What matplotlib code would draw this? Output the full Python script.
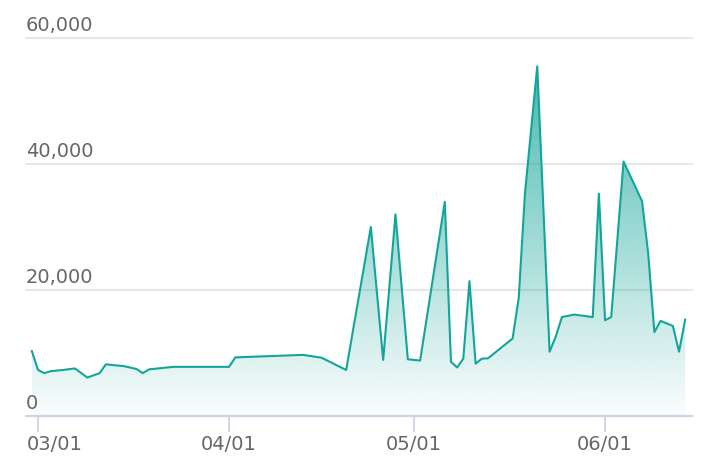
import numpy as np
import pandas as pd
import matplotlib
matplotlib.use('Agg')
import matplotlib.pyplot as plt
import matplotlib.dates as mdates
from matplotlib.colors import to_rgb
from matplotlib.transforms import ScaledTranslation, blended_transform_factory

# datos
dates = ['2024-02-29', '2024-03-01', '2024-03-02', '2024-03-03', '2024-03-05',
         '2024-03-07', '2024-03-09', '2024-03-11', '2024-03-12', '2024-03-15',
         '2024-03-17', '2024-03-18', '2024-03-19', '2024-03-23', '2024-04-01',
         '2024-04-02', '2024-04-13', '2024-04-16', '2024-04-20', '2024-04-24',
         '2024-04-26', '2024-04-28', '2024-04-30', '2024-05-02', '2024-05-06',
         '2024-05-07', '2024-05-08', '2024-05-09', '2024-05-10', '2024-05-11',
         '2024-05-12', '2024-05-13', '2024-05-17', '2024-05-18', '2024-05-19',
         '2024-05-21', '2024-05-23', '2024-05-24', '2024-05-25', '2024-05-27',
         '2024-05-30', '2024-05-31', '2024-06-01', '2024-06-02', '2024-06-04',
         '2024-06-07', '2024-06-08', '2024-06-09', '2024-06-10', '2024-06-12',
         '2024-06-13', '2024-06-14']
values = [10300, 7300, 6800, 7100, 7300,
          7550, 6100, 6800, 8200, 7900,
          7450, 6800, 7400, 7800, 7800,
          9300, 9700, 9250, 7300, 30000,
          8900, 32000, 9000, 8800, 34000,
          8600, 7700, 9100, 21400, 8300,
          9100, 9150, 12300, 18800, 35300,
          55500, 10200, 12600, 15700, 16100,
          15700, 35300, 15200, 15700, 40400,
          34100, 25800, 13300, 15100, 14300,
          10200, 15300]
y_ticks = [0, 20000, 40000, 60000]
x_ticks = ['2024-03-01', '2024-04-01', '2024-05-01', '2024-06-01']

line_color = '#14a59a'
axis_color = '#cdd3e6'
text_color = '#666666'

x = mdates.date2num(pd.to_datetime(dates))
y = np.array(values, dtype=float)

fig = plt.figure(figsize=(7.28, 4.74), dpi=100)
ax = fig.add_axes([0.0357, 0.1224, 0.9148, 0.7974])

# relleno con degradado
poly = ax.fill_between(x, y, 0, color='none', lw=0)
r, g, b = to_rgb(line_color)
grad = np.zeros((256, 1, 4))
grad[:, 0, 0] = r
grad[:, 0, 1] = g
grad[:, 0, 2] = b
grad[:, 0, 3] = np.linspace(0.02, 0.78, 256)
img = ax.imshow(grad, aspect='auto', origin='lower',
                extent=[x.min(), x.max(), 0, y.max()], zorder=1)
img.set_clip_path(poly.get_paths()[0], transform=ax.transData)

ax.plot(x, y, color=line_color, lw=1.5, zorder=3)

ax.set_xlim(x[0] - 0.95, x[-1] + 1.1)
ax.set_ylim(0, 60000)

# rejilla horizontal
for v in y_ticks[1:]:
    ax.axhline(v, color='#e3e3e3', lw=1.2, zorder=0, clip_on=False)

ax.set_yticks([])
trans = blended_transform_factory(ax.transAxes, ax.transData)
for v in y_ticks:
    ax.text(0, v, f'{v:,}', transform=trans + ScaledTranslation(0, 3 / 100, fig.dpi_scale_trans),
            ha='left', va='bottom', fontsize=14, color=text_color)

for s in ['top', 'right', 'left']:
    ax.spines[s].set_visible(False)
ax.spines['bottom'].set_color(axis_color)
ax.spines['bottom'].set_linewidth(1.6)

ax.set_xticks(mdates.date2num(pd.to_datetime(x_ticks)))
ax.xaxis.set_major_formatter(mdates.DateFormatter('%m/%d'))
ax.tick_params(axis='x', length=11.5, width=1.3, color=axis_color, pad=2,
               labelsize=14, labelcolor=text_color)
first = ax.get_xticklabels()[0]
first.set_ha('left')
first.set_transform(first.get_transform() + ScaledTranslation(-11.3 / 100, 0, fig.dpi_scale_trans))

fig.savefig('out.png', dpi=100)
